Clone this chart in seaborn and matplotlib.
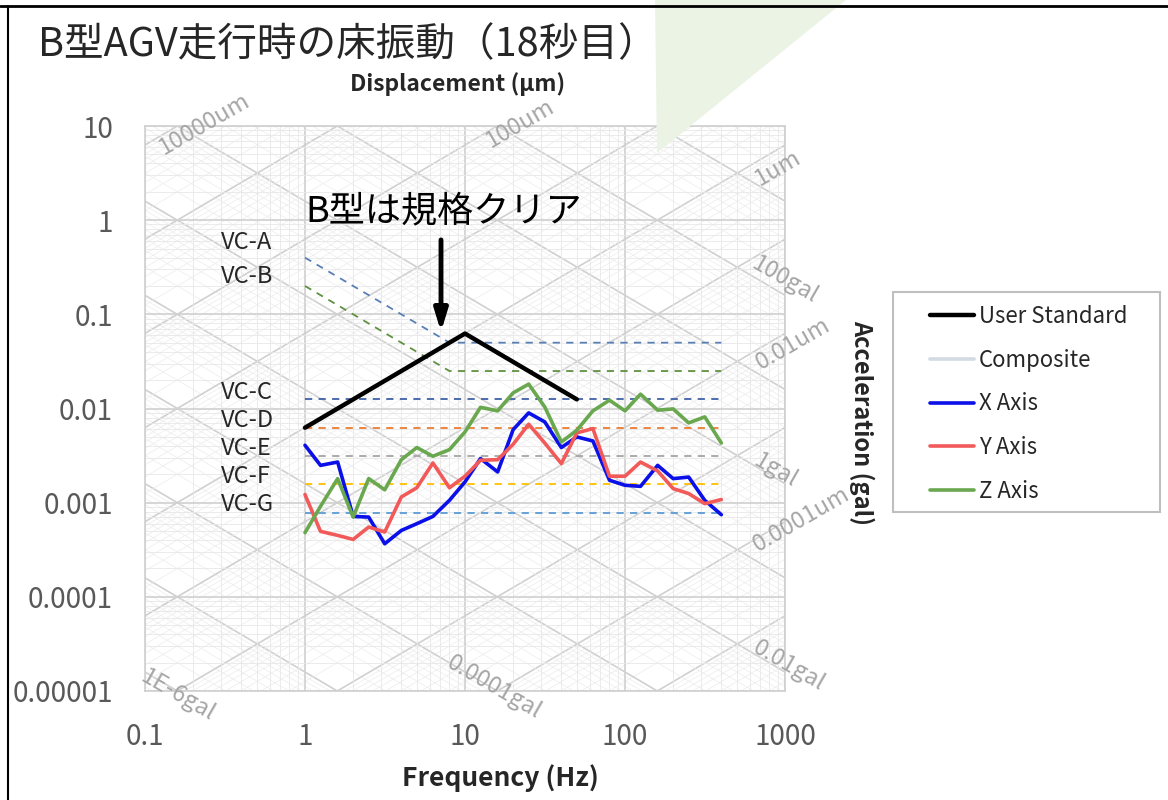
import numpy as np
import pandas as pd
import matplotlib
matplotlib.use("Agg")
import matplotlib.pyplot as plt
from matplotlib.lines import Line2D
from matplotlib.patches import Polygon, Rectangle
import seaborn as sns

# 1/3 octave band centre frequencies (Hz)
freq = [1, 1.25, 1.6, 2, 2.5, 3.15, 4, 5, 6.3, 8, 10, 12.5, 16, 20, 25, 31.5,
        40, 50, 63, 80, 100, 125, 160, 200, 250, 315, 400]

# velocity (mm/s)
x_axis = [0.00407, 0.00249, 0.0027, 0.000714, 0.000703, 0.000366, 0.000507, 0.000598, 0.000714,
          0.00106, 0.00166, 0.00294, 0.00212, 0.00597, 0.00898, 0.00721, 0.00385, 0.00499,
          0.00452, 0.00173, 0.00153, 0.00149, 0.00249, 0.0018, 0.00187, 0.00106, 0.000745]
y_axis = [0.00122, 0.000496, 0.000449, 0.000407, 0.000551, 0.000488, 0.00115, 0.00144, 0.00264,
          0.00144, 0.00191, 0.00282, 0.00286, 0.00417, 0.00681, 0.0043, 0.0026, 0.00551,
          0.00612, 0.00191, 0.00191, 0.0027, 0.00217, 0.00141, 0.00125, 0.000976, 0.00108]
z_axis = [0.00048, 0.000914, 0.0018, 0.000703, 0.0018, 0.00137, 0.00286, 0.00385, 0.00311,
          0.00366, 0.00564, 0.0103, 0.00944, 0.01466, 0.01815, 0.0104, 0.00441, 0.00588,
          0.00944, 0.01225, 0.00944, 0.0142, 0.0096, 0.0099, 0.00703, 0.00815, 0.0043]

# user standard
user_freq = [1, 10, 50]
user_vel = [0.00625, 0.0625, 0.0125]

# VC criteria: value at 1 Hz, knee frequency, flat level up to 400 Hz
vc_names = ["VC-A", "VC-B", "VC-C", "VC-D", "VC-E", "VC-F", "VC-G"]
vc_start = [0.4, 0.2, 0.0125, 0.00625, 0.003125, 0.0015625, 0.00078]
vc_knee = [8, 8, 8, 8, 8, 8, 8]
vc_level = [0.05, 0.025, 0.0125, 0.00625, 0.003125, 0.0015625, 0.00078]
vc_end = 400
vc_colors = ["#5a7fb5", "#5f9140", "#4060a8", "#ed7d31", "#a5a5a5", "#ffc000", "#5b9bd5"]
vc_label_y = [0.58, 0.25, 0.0147, 0.00745, 0.00375, 0.00189, 0.000953]

# grid labels (text, freq, velocity, angle)
disp_labels = [("10000um", 0.236, 10.5, 30), ("100um", 22.0, 10.5, 30), ("1um", 900, 3.6, 30),
               ("0.01um", 1120, 0.049, 30), ("0.0001um", 1270, 0.00066, 30)]
acc_labels = [("100gal", 1000, 0.23, -30), ("1gal", 880, 0.0022, -30), ("0.01gal", 1060, 1.85e-5, -30),
              ("0.0001gal", 15.3, 1.09e-5, -30), ("1E-6gal", 0.16, 9.0e-6, -30)]

sns.set_style("white")
plt.rcParams['font.family'] = ['Noto Sans CJK JP', 'DejaVu Sans']

fig = plt.figure(figsize=(11.68, 8), dpi=100)
# slide decorations
fig.patches.append(Polygon([(655 / 1168, 1), (846 / 1168, 1), (657 / 1168, 1 - 153 / 800)],
                           closed=True, transform=fig.transFigure, facecolor="#ebf3e5",
                           edgecolor="none", zorder=0))
fig.add_artist(Line2D([0, 1], [1 - 6 / 800, 1 - 6 / 800], transform=fig.transFigure, color="black", lw=2))
fig.add_artist(Line2D([8 / 1168, 8 / 1168], [0, 1 - 6 / 800], transform=fig.transFigure, color="black", lw=1.5))

ax = fig.add_axes([145 / 1168, 1 - 691 / 800, 640 / 1168, 565 / 800])
ax.set_facecolor("none")
ax.set_xscale("log")
ax.set_yscale("log")
ax.set_xlim(0.1, 1000)
ax.set_ylim(1e-5, 10)

# tripartite grid
fg = np.array([0.1, 1000.0])
for e in range(-7, 7):
    for m in range(1, 10):
        val = m * 10.0 ** e
        major = m == 1
        col = "#d0d0d0" if major else "#ececec"
        lw = 1.2 if major else 0.5
        # constant displacement (um)
        ax.plot(fg, 2 * np.pi * fg * val / 1000, color=col, lw=lw, zorder=0.5)
        # constant acceleration (mm/s^2)
        ax.plot(fg, val / (2 * np.pi * fg), color=col, lw=lw, zorder=0.5)
ax.grid(True, which="major", color="#d0d0d0", lw=1.2, zorder=0.6)
ax.grid(True, which="minor", color="#e8e8e8", lw=0.6, zorder=0.6)
ax.set_axisbelow(True)

# VC curves
for name, s, k, lv, c in zip(vc_names, vc_start, vc_knee, vc_level, vc_colors):
    ax.plot([1, k, vc_end], [s, lv, lv], color=c, lw=1.3, dashes=(4, 3.5), zorder=2)
for name, yv in zip(vc_names, vc_label_y):
    ax.text(0.30, yv, name, fontsize=17, color="#262626", va="center", ha="left")

df = pd.DataFrame({"freq": freq * 3,
                   "vel": x_axis + y_axis + z_axis,
                   "axis": ["X Axis"] * len(freq) + ["Y Axis"] * len(freq) + ["Z Axis"] * len(freq)})
pal = {"X Axis": "#0b10e8", "Y Axis": "#f25a5a", "Z Axis": "#6aa84f"}
sns.lineplot(data=df, x="freq", y="vel", hue="axis", palette=pal, lw=2.6, legend=False,
             ax=ax, zorder=3, estimator=None)
sns.lineplot(x=user_freq, y=user_vel, color="black", lw=3.2, ax=ax, zorder=4, estimator=None)

# grid labels
for t, fx, vy, ang in disp_labels + acc_labels:
    ax.text(fx, vy, t, fontsize=17, color="#a6a6a6", rotation=ang, ha="center", va="center",
            rotation_mode="anchor", clip_on=False)

# annotation
ax.annotate("", xy=(7.08, 0.061), xytext=(7.08, 0.66),
            arrowprops=dict(arrowstyle="-|>,head_width=0.4,head_length=1.3", color="black", lw=3.5))
ax.text(1.0, 1.25, "B型は規格クリア", fontsize=26, color="black", ha="left", va="center")

ax.set_xticks([0.1, 1, 10, 100, 1000])
ax.set_xticklabels(["0.1", "1", "10", "100", "1000"])
ax.set_yticks([1e-5, 1e-4, 1e-3, 1e-2, 0.1, 1, 10])
ax.set_yticklabels(["0.00001", "0.0001", "0.001", "0.01", "0.1", "1", "10"])
ax.tick_params(axis="both", which="both", length=0, labelsize=20, labelcolor="#595959")
ax.tick_params(axis="x", pad=22)
ax.tick_params(axis="y", pad=23)
ax.set_xlabel("")
ax.set_ylabel("")
for sp in ax.spines.values():
    sp.set_color("#d0d0d0")
    sp.set_linewidth(1.2)

fig.text(38 / 1168, 1 - 45 / 800, "B型AGV走行時の床振動（18秒目）", fontsize=28.5, ha="left", va="center")
fig.text(458 / 1168, 1 - 84 / 800, "Displacement (µm)", fontsize=16.5, fontweight="bold", ha="center", va="center")
fig.text(500 / 1168, 1 - 778 / 800, "Frequency (Hz)", fontsize=19, fontweight="bold", ha="center", va="center")
fig.text(862 / 1168, 1 - 422 / 800, "Acceleration (gal)", fontsize=17, fontweight="bold", ha="center",
         va="center", rotation=270)

# legend
fig.patches.append(Rectangle((893 / 1168, 1 - 512 / 800), 267 / 1168, 220 / 800, transform=fig.transFigure,
                             facecolor="white", edgecolor="#bfbfbf", lw=1.5, zorder=1))
handles = [Line2D([], [], color="black", lw=3.2),
           Line2D([], [], color="#d3dae3", lw=2.6),
           Line2D([], [], color="#0b10e8", lw=2.6),
           Line2D([], [], color="#f25a5a", lw=2.6),
           Line2D([], [], color="#6aa84f", lw=2.6)]
labels = ["User Standard", "Composite", "X Axis", "Y Axis", "Z Axis"]
leg = fig.legend(handles, labels, loc="upper left", bbox_to_anchor=(930 / 1168, 1 - 305 / 800),
                 fontsize=16, frameon=False, handlelength=2.0, handletextpad=0.2,
                 labelspacing=0.93, borderpad=0, borderaxespad=0)
leg.set_zorder(5)

fig.savefig("out.png", dpi=100, facecolor="white")
